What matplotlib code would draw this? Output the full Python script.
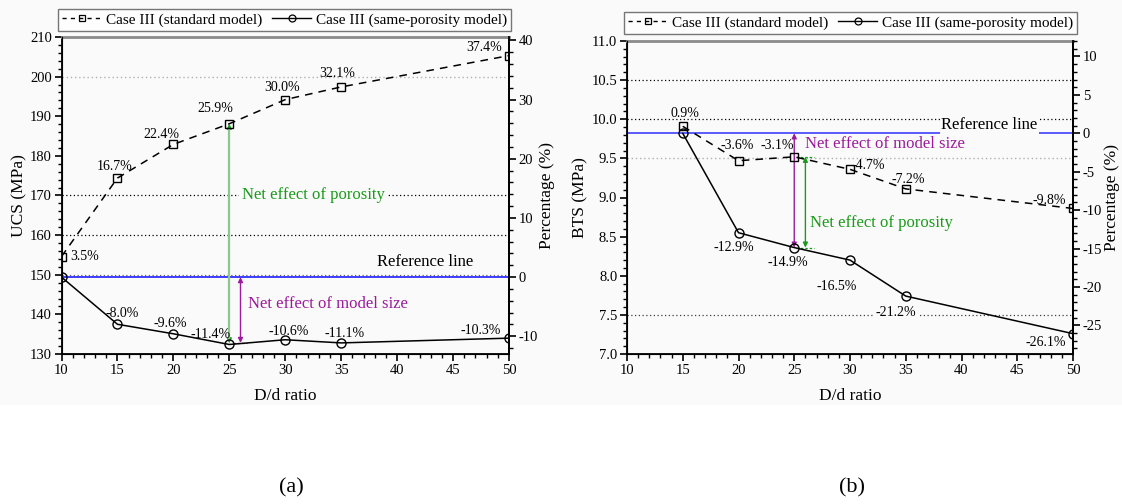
import matplotlib
matplotlib.use("Agg")
import matplotlib.pyplot as plt
from matplotlib.lines import Line2D
from matplotlib.patches import Rectangle
from matplotlib.ticker import MultipleLocator, FormatStrFormatter

plt.rcParams['font.family'] = ['Liberation Serif', 'DejaVu Serif']
plt.rcParams['axes.unicode_minus'] = False

# ---------------- data ----------------
dd_ucs = [10, 15, 20, 25, 30, 35, 50]
ucs_standard = [154.6, 174.4, 182.9, 188.1, 194.2, 197.4, 205.3]
ucs_sameporo = [149.4, 137.5, 135.1, 132.4, 133.6, 132.8, 134.0]
ucs_std_pct = ["3.5%", "16.7%", "22.4%", "25.9%", "30.0%", "32.1%", "37.4%"]
ucs_same_pct = [None, "-8.0%", "-9.6%", "-11.4%", "-10.6%", "-11.1%", "-10.3%"]
ucs_reference = 149.4

dd_bts = [15, 20, 25, 30, 35, 50]
bts_standard = [9.91, 9.47, 9.52, 9.36, 9.11, 8.86]
bts_sameporo = [9.82, 8.55, 8.36, 8.20, 7.74, 7.26]
bts_std_pct = ["0.9%", "-3.6%", "-3.1%", "-4.7%", "-7.2%", "-9.8%"]
bts_same_pct = [None, "-12.9%", "-14.9%", "-16.5%", "-21.2%", "-26.1%"]
bts_reference = 9.82

legend_labels = ["Case III (standard model)", "Case III (same-porosity model)"]

# ---------------- figure ----------------
W, H = 1122, 504
BG = '#fafafa'
fig = plt.figure(figsize=(W / 100, H / 100), dpi=100)
fig.patch.set_facecolor('white')
fig.patches.append(Rectangle((0, 1 - 405 / H), 1, 405 / H, transform=fig.transFigure,
                             fc=BG, ec='none', zorder=-10))

def rect(l, r, t, b):
    return [l / W, 1 - b / H, (r - l) / W, (b - t) / H]

axL = fig.add_axes(rect(61.5, 509, 37, 354))
axR = fig.add_axes(rect(627, 1073, 41, 354))

GREEN = '#1a9a1a'
LGREEN = '#8cc88c'
PURPLE = '#9b1b9b'
BLUE = '#2f2fff'

def style_axes(ax, twin):
    ax.set_facecolor('none')
    for sp in ['left', 'bottom', 'right']:
        ax.spines[sp].set_linewidth(1.3)
        ax.spines[sp].set_color('black')
    ax.spines['top'].set_color('#8a8a8a')
    ax.spines['top'].set_linewidth(2.0)
    ax.tick_params(axis='both', which='major', direction='out', length=5, width=1.2,
                   labelsize=10.5, pad=2)
    ax.tick_params(axis='both', which='minor', direction='out', length=3, width=1.0)
    ax.tick_params(top=False, right=False)
    twin.spines['right'].set_linewidth(1.3)
    twin.spines['top'].set_visible(False)
    twin.tick_params(axis='y', which='major', direction='out', length=5, width=1.2,
                     labelsize=10.5, pad=2)
    twin.tick_params(axis='y', which='minor', direction='out', length=3, width=1.0)
    ax.set_xlim(10, 50)
    ax.xaxis.set_major_locator(MultipleLocator(5))
    ax.xaxis.set_minor_locator(MultipleLocator(1))
    ax.set_xlabel("D/d ratio", fontsize=12.5, labelpad=8)

def plot_series(ax, x, ys, yc):
    ax.plot(x, ys, color='black', ls=(0, (5, 4)), lw=1.1, marker='s', ms=6,
            mfc='none', mec='black', mew=1.0, zorder=5)
    ax.plot(x, yc, color='black', ls='-', lw=1.1, marker='o', ms=6.5,
            mfc='none', mec='black', mew=1.0, zorder=5)

def annotate(ax, x, y, txt, dx, dy, ha='center', bbox=False):
    kw = {}
    if bbox:
        kw['bbox'] = dict(boxstyle='square,pad=0.15', fc=BG, ec='none')
    ax.annotate(txt, (x, y), xytext=(dx, dy), textcoords='offset pixels',
                ha=ha, va='center', fontsize=10, zorder=6, **kw)

# ---------- left panel (UCS) ----------
ax = axL
twin = ax.twinx()
style_axes(ax, twin)
ylo, yhi = 130, 210
ax.set_ylim(ylo, yhi)
ax.yaxis.set_major_locator(MultipleLocator(10))
ax.yaxis.set_minor_locator(MultipleLocator(2))
twin.set_ylim((ylo - ucs_reference) / ucs_reference * 100, (yhi - ucs_reference) / ucs_reference * 100)
twin.yaxis.set_major_locator(MultipleLocator(10))
twin.yaxis.set_minor_locator(MultipleLocator(2))
ax.set_ylabel("UCS (MPa)", fontsize=12.5, labelpad=2)
twin.set_ylabel("Percentage (%)", fontsize=12.5, labelpad=1)

ax.axhline(200, color='#b0b0b0', ls=(0, (1, 2)), lw=1.0, zorder=1)
ax.axhline(170, color='black', ls=(0, (1, 2)), lw=0.9, zorder=1)
ax.axhline(160, color='black', ls=(0, (1, 2)), lw=0.9, zorder=1)
ax.axhline(150, color='#606060', ls=(0, (1, 2)), lw=0.9, zorder=1)
ax.axhline(ucs_reference, color=BLUE, lw=1.3, zorder=2)

plot_series(ax, dd_ucs, ucs_standard, ucs_sameporo)

std_off = [(9, 0, 'left'), (-3, 12, 'center'), (-12, 10, 'center'), (-14, 15, 'center'),
           (-3, 12, 'center'), (-4, 13, 'center'), (-7, 8, 'right')]
for x, y, t, (dx, dy, ha) in zip(dd_ucs, ucs_standard, ucs_std_pct, std_off):
    annotate(ax, x, y, t, dx, dy, ha)
same_off = [None, (5, 11, 'center'), (-3, 10, 'center'), (-19, 10, 'center'),
            (3, 8, 'center'), (3, 9, 'center'), (-8, 8, 'right')]
for x, y, t, o in zip(dd_ucs, ucs_sameporo, ucs_same_pct, same_off):
    if t is None:
        continue
    annotate(ax, x, y, t, o[0], o[1], o[2])

# arrows
ax.annotate('', xy=(25, ucs_sameporo[3] + 0.3), xytext=(25, ucs_standard[3]),
            arrowprops=dict(arrowstyle='<|-|>', color=GREEN, lw=1.0, mutation_scale=7,
                            shrinkA=0, shrinkB=0), zorder=4)
ax.plot([25, 25], [ucs_sameporo[3] + 1.5, ucs_standard[3] - 1.5], color=LGREEN, lw=1.6, zorder=4)
ax.annotate('', xy=(26, ucs_sameporo[3] + 0.4), xytext=(26, ucs_reference),
            arrowprops=dict(arrowstyle='<|-|>', color=PURPLE, lw=1.0, mutation_scale=7,
                            shrinkA=0, shrinkB=0), zorder=4)
ax.plot([25.3, 26.6], [ucs_sameporo[3] + 0.3] * 2, color=PURPLE, ls=(0, (2, 1.5)), lw=0.9, zorder=4)

ax.text(26.1, 170, "Net effect of porosity", color=GREEN, fontsize=12, ha='left', va='center',
        bbox=dict(boxstyle='square,pad=0.15', fc=BG, ec='none'), zorder=3)
ax.text(26.7, 142.6, "Net effect of model size", color=PURPLE, fontsize=12, ha='left', va='center', zorder=3)
ax.text(42.5, 153.2, "Reference line", color='black', fontsize=12, ha='center', va='center',
        bbox=dict(boxstyle='square,pad=0.1', fc=BG, ec='none'), zorder=3)

# ---------- right panel (BTS) ----------
ax = axR
twin = ax.twinx()
style_axes(ax, twin)
ylo, yhi = 7.0, 11.0
ax.set_ylim(ylo, yhi)
ax.yaxis.set_major_locator(MultipleLocator(0.5))
ax.yaxis.set_minor_locator(MultipleLocator(0.1))
ax.yaxis.set_major_formatter(FormatStrFormatter('%.1f'))
twin.set_ylim((ylo - bts_reference) / bts_reference * 100, (yhi - bts_reference) / bts_reference * 100)
twin.yaxis.set_major_locator(MultipleLocator(5))
twin.yaxis.set_minor_locator(MultipleLocator(1))
ax.set_ylabel("BTS (MPa)", fontsize=12.5, labelpad=2)
twin.set_ylabel("Percentage (%)", fontsize=12.5, labelpad=1)

ax.axhline(10.5, color='black', ls=(0, (1, 2)), lw=0.9, zorder=1)
ax.axhline(10.0, color='black', ls=(0, (1, 2)), lw=0.9, zorder=1)
ax.axhline(9.5, color='#b0b0b0', ls=(0, (1, 2)), lw=1.0, zorder=1)
ax.axhline(7.5, color='#404040', ls=(0, (1, 2)), lw=0.9, zorder=1)
ax.axhline(bts_reference, color=BLUE, lw=1.1, zorder=2)

plot_series(ax, dd_bts, bts_standard, bts_sameporo)

std_off = [(2, 13, 'center'), (-1, 15, 'center'), (-17, 11, 'center'), (18, 4, 'center'),
           (2, 9, 'center'), (-7, 8, 'right')]
for x, y, t, (dx, dy, ha) in zip(dd_bts, bts_standard, bts_std_pct, std_off):
    annotate(ax, x, y, t, dx, dy, ha)
same_off = [None, (-5, -15, 'center'), (-6, -15, 'center'), (-13, -26, 'center'),
            (-10, -16, 'center'), (-7, -9, 'right')]
for x, y, t, o in zip(dd_bts, bts_sameporo, bts_same_pct, same_off):
    if t is None:
        continue
    annotate(ax, x, y, t, o[0], o[1], o[2], bbox=(t == "-21.2%"))

ax.annotate('', xy=(25, bts_sameporo[2]), xytext=(25, bts_reference),
            arrowprops=dict(arrowstyle='<|-|>', color=PURPLE, lw=1.0, mutation_scale=7,
                            shrinkA=0, shrinkB=0), zorder=4)
ax.annotate('', xy=(26, bts_sameporo[2]), xytext=(26, bts_standard[2]),
            arrowprops=dict(arrowstyle='<|-|>', color=GREEN, lw=1.0, mutation_scale=7,
                            shrinkA=0, shrinkB=0), zorder=4)
ax.plot([25.2, 26.8], [bts_standard[2]] * 2, color=GREEN, ls=(0, (2, 1.5)), lw=0.9, zorder=4)
ax.plot([25.2, 26.8], [bts_sameporo[2]] * 2, color=GREEN, ls=(0, (2, 1.5)), lw=0.9, zorder=4)

ax.text(26.0, 9.68, "Net effect of model size", color=PURPLE, fontsize=12, ha='left', va='center', zorder=3)
ax.text(26.4, 8.68, "Net effect of porosity", color=GREEN, fontsize=12, ha='left', va='center', zorder=3)
ax.text(42.5, 9.93, "Reference line", color='black', fontsize=12, ha='center', va='center',
        bbox=dict(boxstyle='square,pad=0.1', fc=BG, ec='none'), zorder=3)

# ---------- legends ----------
handles = [Line2D([], [], color='black', ls=(0, (3, 3)), lw=1.0, marker='s', ms=5, mfc='none', mew=0.9),
           Line2D([], [], color='black', ls='-', lw=1.0, marker='o', ms=5, mfc='none', mew=0.9)]
for cx, cy in [((55 + 514) / 2, 20), ((621 + 1080) / 2, 23)]:
    leg = fig.legend(handles, legend_labels, loc='center', bbox_to_anchor=(cx / W, 1 - cy / H),
                     ncol=2, frameon=True, fancybox=False, fontsize=11, handlelength=2.6,
                     handletextpad=0.3, columnspacing=0.6, borderpad=0.25, borderaxespad=0)
    leg.get_frame().set_edgecolor('#555555')
    leg.get_frame().set_linewidth(1.0)
    leg.get_frame().set_facecolor('white')

fig.text(291 / W, 1 - 488 / H, "(a)", fontsize=16, ha='center', va='center')
fig.text(852 / W, 1 - 488 / H, "(b)", fontsize=16, ha='center', va='center')

fig.savefig("out.png", dpi=100)
